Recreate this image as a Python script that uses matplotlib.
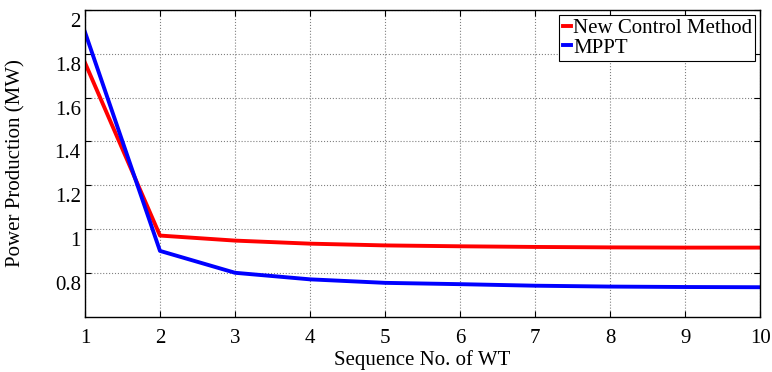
import numpy as np
import matplotlib.pyplot as plt
import matplotlib.transforms as mtransforms

# Power production per wind turbine (MW)
wt_no = [1, 2, 3, 4, 5, 6, 7, 8, 9, 10]
new_control = [1.76, 0.97, 0.947, 0.933, 0.925, 0.921, 0.918, 0.916, 0.915, 0.915]
mppt = [1.90, 0.90, 0.80, 0.77, 0.754, 0.748, 0.741, 0.737, 0.735, 0.734]
y_ticks = [0.8, 1.0, 1.2, 1.4, 1.6, 1.8, 2.0]
y_tick_labels = ["0.8", "1", "1.2", "1.4", "1.6", "1.8", "2"]

plt.rcParams['font.family'] = ['Liberation Serif', 'DejaVu Serif']
plt.rcParams['font.size'] = 15

fig = plt.figure(figsize=(7.72, 3.72), dpi=100)
ax = fig.add_axes([0.110, 0.149, 0.875, 0.824])

ax.plot(wt_no, new_control, color='#ff0000', lw=2.8, label='New Control Method')
ax.plot(wt_no, mppt, color='#0000ff', lw=2.8, label='MPPT')

ax.set_xlim(1, 10)
ax.set_ylim(0.6, 2.0)
ax.set_xticks(wt_no)
ax.set_yticks(y_ticks)
ax.set_yticklabels(y_tick_labels)

ax.grid(True, color='#808080', linestyle=':', linewidth=0.8)
ax.tick_params(direction='in', top=True, right=True, length=4, width=0.8, pad=3)
for s in ax.spines.values():
    s.set_linewidth(1.0)

# MATLAB-style label placement (slightly lower than tick)
off = mtransforms.ScaledTranslation(0, -10 / 100, fig.dpi_scale_trans)
for lab in ax.get_yticklabels():
    lab.set_transform(lab.get_transform() + off)
offx = mtransforms.ScaledTranslation(0, -8 / 100, fig.dpi_scale_trans)
for lab in ax.get_xticklabels():
    lab.set_transform(lab.get_transform() + offx)

ax.set_xlabel('Sequence No. of WT', labelpad=0)
ax.xaxis.set_label_coords(0.5, -0.11)
ax.set_ylabel('Power Production (MW)')
ax.yaxis.set_label_coords(-0.088, 0.5)

leg = ax.legend(loc='upper right', handlelength=0.4, handletextpad=0.1,
                borderpad=0.15, labelspacing=0.0, fancybox=False,
                edgecolor='black', framealpha=1, borderaxespad=0.25)
leg.get_frame().set_linewidth(0.8)

fig.savefig('out.png', dpi=100)
